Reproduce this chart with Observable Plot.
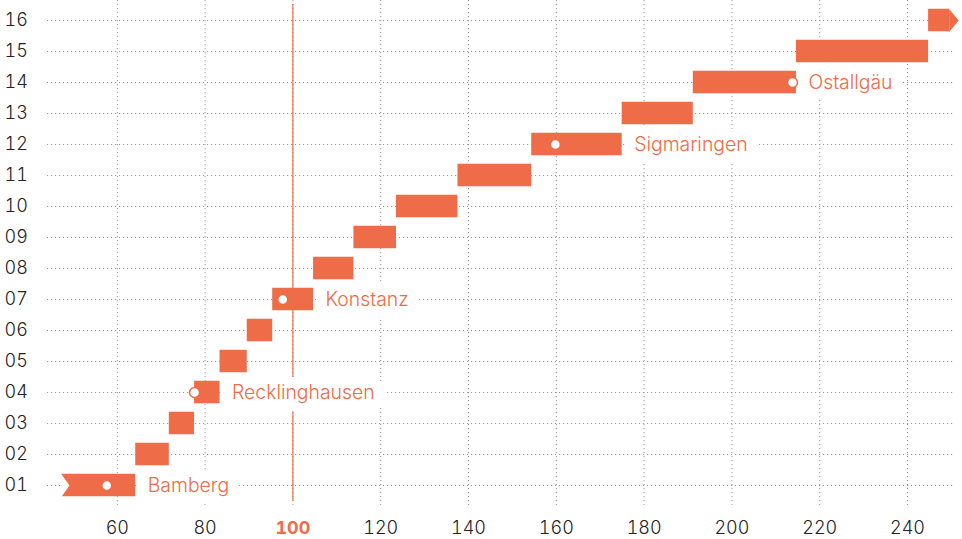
<!DOCTYPE html>
<html><head><meta charset="utf-8">
<script src="https://cdn.jsdelivr.net/npm/d3@7"></script>
<script src="https://cdn.jsdelivr.net/npm/@observablehq/plot@0.6"></script>
<style>
body{margin:0;background:#fff;}
#chart svg{display:block;font-variant-numeric:tabular-nums;}
</style></head><body><div id="chart"></div>
<script>
const rows = ["01","02","03","04","05","06","07","08","09","10","11","12","13","14","15","16"];
const breaks = [47.3, 64.2, 71.85, 77.6, 83.4, 89.6, 95.4, 104.7, 113.9, 123.6, 137.6, 154.4, 175.0, 191.2, 214.7, 244.8, 249.6];
const places = ["Bamberg", "Recklinghausen", "Konstanz", "Sigmaringen", "Ostallgäu"];
const placeRows = ["01", "04", "07", "12", "14"];
const placeValues = [57.6, 77.6, 97.7, 159.8, 213.8];
const xTicks = [60, 80, 100, 120, 140, 160, 180, 200, 220, 240];
const refValue = 100;

const bars = rows.map((r, i) => ({row: r, x1: breaks[i], x2: breaks[i + 1]}));
const pts = places.map((p, i) => ({name: p, row: placeRows[i], value: placeValues[i], end: breaks[rows.indexOf(placeRows[i]) + 1]}));
const first = bars[0], last = bars[bars.length - 1];

const orange = "#EE6C47";
const notch = {draw(ctx) { ctx.moveTo(-1, -12.5); ctx.lineTo(8, 0); ctx.lineTo(-1, 12.5); ctx.closePath(); }};
const arrow = {draw(ctx) { ctx.moveTo(-0.5, -11.54); ctx.lineTo(9, 0); ctx.lineTo(-0.5, 11.54); ctx.closePath(); }};
const gridStyle = {stroke: "#9a9a9a", strokeOpacity: 1, strokeDasharray: "1.2,2.8"};

const chart = Plot.plot({
  width: 962, height: 539,
  marginTop: 0, marginBottom: 34, marginLeft: 47, marginRight: 8,
  style: {fontFamily: "Inter, sans-serif", fontSize: "18px", fontWeight: 300, color: "#222", background: "#fff"},
  x: {domain: [44.1, 250.7], label: null},
  y: {domain: rows, reverse: true, padding: 0.15, label: null},
  marks: [
    Plot.gridY(rows, gridStyle),
    Plot.gridX(xTicks, gridStyle),
    Plot.ruleX([refValue], {stroke: orange, strokeWidth: 1.2, insetTop: 4, insetBottom: 4}),
    Plot.axisY(rows, {tickSize: 0, tickPadding: 43, textAnchor: "start", fill: "#222", label: null}),
    Plot.axisX(xTicks.filter(d => d !== refValue), {tickSize: 0, tickPadding: 16, fill: "#222", label: null}),
    Plot.axisX([refValue], {tickSize: 0, tickPadding: 16, fill: orange, fontWeight: 700, label: null}),
    Plot.text(pts, {x: "end", y: "row", text: "name", dx: 12, textAnchor: "start", fill: orange, fontSize: 19.4, fontWeight: 300, stroke: "white", strokeWidth: 22, paintOrder: "stroke"}),
    Plot.barX(bars, {x1: "x1", x2: "x2", y: "row", fill: orange, insetTop: 1.75, insetBottom: 1.75}),
    Plot.dot([first], {x: "x1", y: "row", symbol: notch, fill: "white", r: 12}),
    Plot.dot([last], {x: "x2", y: "row", symbol: arrow, fill: orange, r: 12}),
    Plot.dot(pts, {x: "value", y: "row", r: 5, fill: "white", stroke: orange, strokeWidth: 1.5})
  ]
});
document.getElementById("chart").append(chart);
</script></body></html>
